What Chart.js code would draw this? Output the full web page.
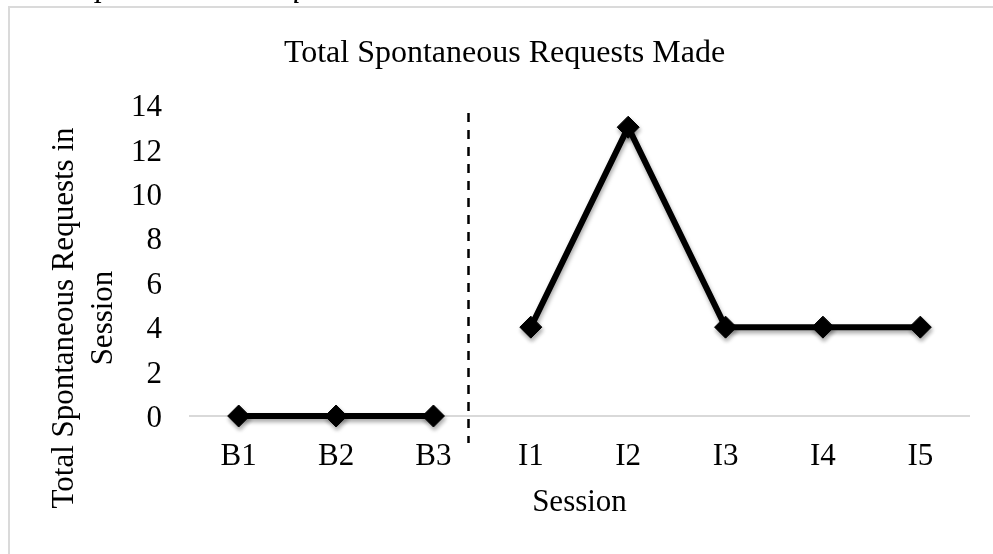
<!DOCTYPE html>
<html>
<head>
<meta charset="utf-8">
<script src="https://cdn.jsdelivr.net/npm/chart.js@4.4.1/dist/chart.umd.min.js"></script>
<style>
  html, body { margin: 0; padding: 0; background: #fff; overflow: hidden; }
  #wrap { position: relative; width: 993px; height: 554px; overflow: hidden; }
  #frame { position: absolute; left: 8px; top: 6px; width: 1100px; height: 700px;
           border-left: 2px solid #dadada; border-top: 2px solid #dadada; }
  #caption { position: absolute; left: 80px; top: -33px; white-space: nowrap;
             font: italic 32px 'Liberation Serif', serif; color: #000;
             will-change: transform; }
  #chart { position: absolute; left: 0; top: 0; }
</style>
</head>
<body>
<div id="wrap">
  <div id="frame"></div>
  <div id="caption">Spontaneous Requests</div>
  <canvas id="chart" width="993" height="554"></canvas>
</div>
<script>
'use strict';

const sessions = ['B1', 'B2', 'B3', 'I1', 'I2', 'I3', 'I4', 'I5'];
const baselineRequests = [0, 0, 0, null, null, null, null, null];
const interventionRequests = [null, null, null, 4, 13, 4, 4, 4];
const yTicks = [0, 2, 4, 6, 8, 10, 12, 14];

const chartTitle = 'Total Spontaneous Requests Made';
const yTitleLines = ['Total Spontaneous Requests in', 'Session'];
const xTitle = 'Session';

const SERIF = "'Liberation Serif', 'Times New Roman', serif";

// phase change line, sits a bit past B3
const phaseLine = {
  id: 'phaseLine',
  afterDatasetsDraw(chart) {
    const { ctx, chartArea } = chart;
    const x = chart.scales.x;
    const a = x.getPixelForValue(2);
    const b = x.getPixelForValue(3);
    const px = Math.round(a + (b - a) * 0.35) + 0.5;
    ctx.save();
    ctx.strokeStyle = '#000';
    ctx.lineWidth = 2.5;
    ctx.setLineDash([9, 8]);
    ctx.beginPath();
    ctx.moveTo(px, chartArea.top + 8);
    ctx.lineTo(px, chartArea.bottom + 27);
    ctx.stroke();
    ctx.restore();
  }
};

// soft shadow under lines and markers
const shadow = {
  id: 'shadow',
  beforeDatasetsDraw(chart) {
    const ctx = chart.ctx;
    ctx.save();
    ctx.shadowColor = 'rgba(0,0,0,0.35)';
    ctx.shadowBlur = 4;
    ctx.shadowOffsetX = 1;
    ctx.shadowOffsetY = 3;
  },
  afterDatasetsDraw(chart) {
    chart.ctx.restore();
  }
};

// two-line rotated y title, centred lower than the scale
const yTitle = {
  id: 'yTitle',
  afterDraw(chart) {
    const ctx = chart.ctx;
    ctx.save();
    ctx.fillStyle = '#000';
    ctx.font = '31px ' + SERIF;
    ctx.textAlign = 'center';
    ctx.textBaseline = 'middle';
    const cy = 318;
    [65, 104].forEach((cx, i) => {
      ctx.save();
      ctx.translate(cx, cy);
      ctx.rotate(-Math.PI / 2);
      ctx.fillText(yTitleLines[i], 0, 0);
      ctx.restore();
    });
    ctx.restore();
  }
};

const pointStyle = {
  pointStyle: 'rectRot',
  pointRadius: 11,
  pointHoverRadius: 11,
  pointBackgroundColor: '#000',
  pointBorderColor: '#000',
  pointBorderWidth: 1,
  borderColor: '#000',
  borderWidth: 6,
  tension: 0,
  spanGaps: false,
  clip: false
};

new Chart(document.getElementById('chart').getContext('2d'), {
  type: 'line',
  data: {
    labels: sessions,
    datasets: [
      Object.assign({ label: 'Baseline', data: baselineRequests }, pointStyle),
      Object.assign({ label: 'Intervention', data: interventionRequests }, pointStyle)
    ]
  },
  options: {
    responsive: false,
    animation: false,
    layout: { padding: { left: 40, right: 24, top: 0, bottom: 0 } },
    plugins: {
      legend: { display: false },
      tooltip: { enabled: false },
      title: {
        display: true,
        text: chartTitle,
        color: '#000',
        font: { family: SERIF, size: 32, weight: 'normal' },
        padding: { top: 34, bottom: 32.6 }
      }
    },
    scales: {
      x: {
        offset: true,
        grid: { display: false, drawTicks: false },
        border: { display: true, color: '#d9d9d9', width: 2 },
        ticks: { color: '#000', font: { family: SERIF, size: 31 }, padding: 22, maxRotation: 0 },
        title: {
          display: true, text: xTitle, color: '#000',
          font: { family: SERIF, size: 31 }, padding: { top: 0, bottom: 33 }
        },
        afterFit(s) { s.height = 138; }
      },
      y: {
        min: 0,
        max: 14,
        afterBuildTicks(s) { s.ticks = yTicks.map(v => ({ value: v })); },
        grid: { display: false, drawTicks: false },
        border: { display: false },
        ticks: { color: '#000', font: { family: SERIF, size: 31 }, padding: 28, labelOffset: 3 },
        afterFit(s) { s.width = 150; }
      }
    }
  },
  plugins: [shadow, phaseLine, yTitle]
});
</script>
</body>
</html>
